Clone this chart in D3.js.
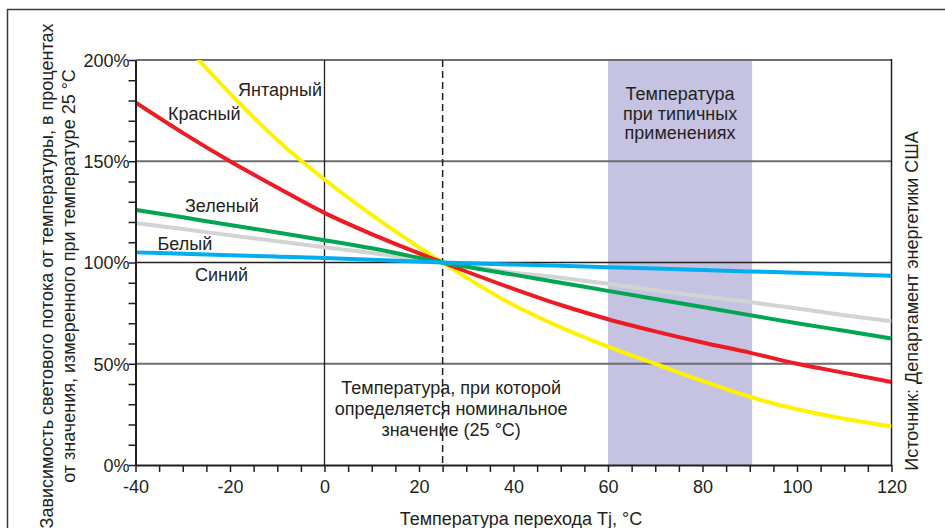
<!DOCTYPE html>
<html>
<head>
<meta charset="utf-8">
<script src="https://cdn.jsdelivr.net/npm/d3@7"></script>
<style>
  html, body { margin: 0; padding: 0; background: #fff; }
  svg { display: block; }
  text { font-family: "Liberation Sans", Arial, Helvetica, sans-serif; fill: #231f20; }
</style>
</head>
<body>
<svg id="chart" width="945" height="528"></svg>
<script>
// ---------- data ----------
const temps = [-40, -30, -20, -10, 0, 10, 25, 40, 50, 60, 70, 80, 90, 100, 110, 120];
const redValues   = [179, 164, 150, 137, 124.5, 114, 100, 87, 79, 72, 66, 60.5, 55.5, 50, 45.5, 41];
const greenValues = [126, 122.3, 118.5, 114.8, 111, 107, 100, 94, 90, 86, 82, 78, 74, 70, 66.3, 62.5];
const whiteValues = [119.5, 116.5, 113.5, 110.5, 107.5, 104.7, 100, 95, 92.5, 89.5, 86.3, 83.3, 80.5, 77.3, 74, 71];
const blueValues  = [105, 104.3, 103.6, 102.9, 102.2, 101.4, 100, 99, 98.4, 97.7, 97, 96.3, 95.6, 94.9, 94.2, 93.5];
const amberTemps  = [-27, -20, -10, 0, 10, 25, 40, 50, 60, 70, 80, 90, 100, 110, 120];
const amberValues = [201, 183.5, 160.5, 141, 123.5, 100, 79, 68, 58.5, 50, 41.5, 33.7, 27.5, 22.8, 19];

const seriesNames = ["Янтарный", "Красный", "Белый", "Зеленый", "Синий"];
const xTickValues = [-40, -20, 0, 20, 40, 60, 80, 100, 120];
const yTickValues = [0, 50, 100, 150, 200];
const typicalRange = [60, 90.5];
const ratedTemp = 25;

const yTitleLines = ["Зависимость светового потока от температуры, в процентах",
                     "от значения, измеренного при температуре 25 °С"];
const xTitle = "Температура перехода Tj, °С";
const sourceText = "Источник: Департамент энергетики США";
const typicalLabel = ["Температура", "при типичных", "применениях"];
const ratedLabel = ["Температура, при которой", "определяется номинальное", "значение (25 °С)"];

// ---------- setup ----------
const svg = d3.select("#chart");
const x = d3.scaleLinear().domain([-40, 120]).range([135.5, 891.5]);
const y = d3.scaleLinear().domain([0, 200]).range([465, 60]);
const FS = "18px";
const dark = "#231f20";
const gray = "#6d6e71";

// outer frame (only top and left edges fall inside the picture)
svg.append("path").attr("d", "M7.5,540 V9.5 H950")
  .attr("fill", "none").attr("stroke", "#3a3a3a").attr("stroke-width", 1.5);

// clip
svg.append("defs").append("clipPath").attr("id", "plotClip")
  .append("rect").attr("x", x(-40)).attr("y", y(200)).attr("width", x(120) - x(-40)).attr("height", y(0) - y(200));

// shaded typical range
svg.append("rect")
  .attr("x", x(typicalRange[0])).attr("y", y(200))
  .attr("width", x(typicalRange[1]) - x(typicalRange[0]))
  .attr("height", y(0) - y(200))
  .attr("fill", "#c5c3e1");

// horizontal grid lines
svg.append("g").selectAll("line").data([50, 150]).join("line")
  .attr("x1", x(-40)).attr("x2", x(120)).attr("y1", d => y(d)).attr("y2", d => y(d))
  .attr("stroke", gray).attr("stroke-width", 1.8);
svg.append("line").attr("x1", x(-40)).attr("x2", x(120)).attr("y1", y(100)).attr("y2", y(100))
  .attr("stroke", dark).attr("stroke-width", 1.5);
// top border
svg.append("line").attr("x1", x(-40)).attr("x2", x(120)).attr("y1", y(200)).attr("y2", y(200))
  .attr("stroke", gray).attr("stroke-width", 2);
// vertical line at 0
svg.append("line").attr("x1", x(0)).attr("x2", x(0)).attr("y1", y(200)).attr("y2", y(0))
  .attr("stroke", dark).attr("stroke-width", 1.3);
// right border
svg.append("line").attr("x1", x(120)).attr("x2", x(120)).attr("y1", y(200) - 1).attr("y2", y(0))
  .attr("stroke", dark).attr("stroke-width", 1.5);
// dashed rated temperature line
svg.append("line").attr("x1", x(ratedTemp)).attr("x2", x(ratedTemp)).attr("y1", y(200)).attr("y2", y(0))
  .attr("stroke", dark).attr("stroke-width", 1.5).attr("stroke-dasharray", "7,4");

// ---------- curves ----------
const line = d3.line().x(d => x(d[0])).y(d => y(d[1])).curve(d3.curveMonotoneX);
const series = [
  { name: seriesNames[0], t: amberTemps, v: amberValues, color: "#fff200" },
  { name: seriesNames[1], t: temps, v: redValues, color: "#ed1c24" },
  { name: seriesNames[2], t: temps, v: whiteValues, color: "#d1d3d4" },
  { name: seriesNames[3], t: temps, v: greenValues, color: "#00a651" },
  { name: seriesNames[4], t: temps, v: blueValues, color: "#00aeef" }
];
svg.append("g").attr("clip-path", "url(#plotClip)")
  .selectAll("path").data(series).join("path")
  .attr("d", s => line(s.t.map((t, i) => [t, s.v[i]])))
  .attr("fill", "none").attr("stroke", s => s.color).attr("stroke-width", 4)
  .attr("stroke-linecap", "butt");

// ---------- axes ----------
const yAxis = d3.axisLeft(y).tickValues(d3.range(0, 201, 10)).tickSize(7).tickSizeOuter(0)
  .tickFormat(d => yTickValues.includes(d) ? d + "%" : "");
const gy = svg.append("g").attr("transform", `translate(${x(-40)},0)`).call(yAxis);
gy.select(".domain").attr("stroke", dark).attr("stroke-width", 2);
gy.selectAll(".tick line").attr("stroke", dark).attr("stroke-width", 1.5);
gy.selectAll(".tick text").attr("x", -6).attr("dy", "0.36em")
  .style("font-size", FS).style("font-family", "'Liberation Sans', Arial, sans-serif").attr("fill", dark);

const xAxis = d3.axisBottom(x).tickValues(d3.range(-40, 121, 5)).tickSize(7).tickSizeOuter(0)
  .tickFormat(d => xTickValues.includes(d) ? String(d) : "");
const gx = svg.append("g").attr("transform", `translate(0,${y(0)})`).call(xAxis);
gx.select(".domain").attr("stroke", dark).attr("stroke-width", 2);
gx.selectAll(".tick line").attr("stroke", dark).attr("stroke-width", 1.5);
gx.selectAll(".tick text").attr("y", 15).attr("dy", "0.71em")
  .style("font-size", FS).style("font-family", "'Liberation Sans', Arial, sans-serif").attr("fill", dark);

// ---------- texts ----------
function txt(xp, yp, s, anchor) {
  return svg.append("text").attr("x", xp).attr("y", yp).attr("text-anchor", anchor || "start")
    .style("font-size", FS).text(s);
}
// series labels
txt(238, 96, seriesNames[0]);
txt(168, 119.5, seriesNames[1]);
txt(185, 211.5, seriesNames[3]);
txt(157.5, 250, seriesNames[2]);
txt(195, 281, seriesNames[4]);

// typical range label
typicalLabel.forEach((s, i) => txt((x(typicalRange[0]) + x(typicalRange[1])) / 2, 100 + i * 19.6, s, "middle"));
// rated label
ratedLabel.forEach((s, i) => txt(x(ratedTemp) + 8.5, 393.5 + i * 21, s, "middle"));

// x title
txt(521, 525, xTitle, "middle");

// y title (rotated)
yTitleLines.forEach((s, i) => {
  svg.append("text").attr("transform", `translate(${53 + i * 22},276) rotate(-90)`)
    .attr("text-anchor", "middle").style("font-size", FS).text(s);
});
// source (rotated)
svg.append("text").attr("transform", "translate(918,301) rotate(-90)")
  .attr("text-anchor", "middle").style("font-size", FS).text(sourceText);
</script>
</body>
</html>
